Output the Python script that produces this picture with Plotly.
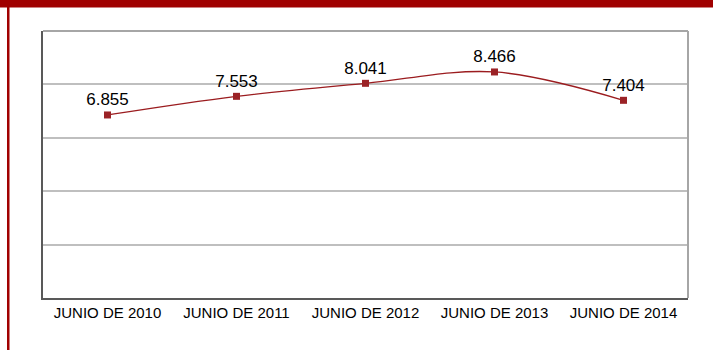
import plotly.graph_objects as go

categories = ["JUNIO DE 2010", "JUNIO DE 2011", "JUNIO DE 2012", "JUNIO DE 2013", "JUNIO DE 2014"]
values = [6.855, 7.553, 8.041, 8.466, 7.404]
value_labels = ["6.855", "7.553", "8.041", "8.466", "7.404"]

W, H = 713, 350
L, R, T, B = 43, 25, 31, 52
pw, ph = W - L - R, H - T - B

def px(x):
    return (x - L) / pw

def py(y):
    return 1 - (y - T) / ph

fig = go.Figure()
fig.add_trace(go.Scatter(
    x=categories, y=values,
    mode="lines+markers+text",
    line=dict(color="#9B1C1F", width=1.3, shape="spline", smoothing=1),
    marker=dict(symbol="square", size=7, color="#9B2226"),
    text=value_labels, textposition="top center",
    textfont=dict(family="Liberation Sans, Arial", size=17, color="#000000"),
    cliponaxis=False,
    showlegend=False,
))

shapes = [
    # top red bar
    dict(type="rect", xref="paper", yref="paper", x0=px(0), x1=px(W), y0=py(7.5), y1=py(-1),
         fillcolor="#A00000", line=dict(width=0), layer="above"),
    # left red line
    dict(type="rect", xref="paper", yref="paper", x0=px(7), x1=px(9.5), y0=py(H), y1=py(0),
         fillcolor="#A00000", line=dict(width=0), layer="above"),
    # top & right plot border (light gray)
    dict(type="line", xref="paper", yref="paper", x0=0, x1=1, y0=1, y1=1,
         line=dict(color="#A6A6A6", width=2), layer="above"),
    dict(type="line", xref="paper", yref="paper", x0=1, x1=1, y0=0, y1=1,
         line=dict(color="#A6A6A6", width=2), layer="above"),
]

fig.update_layout(
    width=W, height=H,
    margin=dict(l=L, r=R, t=T, b=B),
    paper_bgcolor="white", plot_bgcolor="white",
    font=dict(family="Liberation Sans, Arial", color="#000000"),
    shapes=shapes,
    xaxis=dict(
        type="category", range=[-0.5, 4.5],
        showline=True, linecolor="#595959", linewidth=2,
        showgrid=False, ticks="", zeroline=False,
        tickfont=dict(family="Liberation Sans, Arial", size=15, color="#000000"),
        fixedrange=True,
    ),
    yaxis=dict(
        range=[0, 10], dtick=2,
        showline=True, linecolor="#595959", linewidth=2,
        showgrid=True, gridcolor="#BFBFBF", gridwidth=1.5,
        showticklabels=False, ticks="", zeroline=False,
        fixedrange=True,
    ),
)

fig.write_html(
    "out.html",
    config={"displayModeBar": False},
    post_script="document.body.style.margin='0';document.body.style.overflow='hidden';",
)
